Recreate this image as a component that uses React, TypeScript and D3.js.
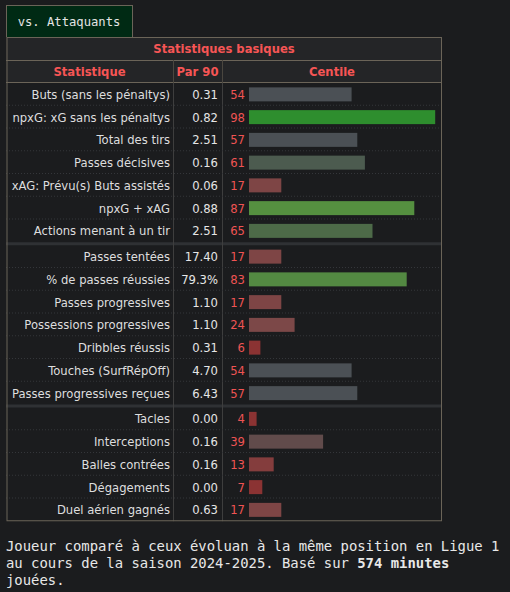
import React from "react";
import * as d3 from "d3";

const groups = [
  [
    { label: "Buts (sans les pénaltys)", per90: "0.31", pct: 54 },
    { label: "npxG: xG sans les pénaltys", per90: "0.82", pct: 98 },
    { label: "Total des tirs", per90: "2.51", pct: 57 },
    { label: "Passes décisives", per90: "0.16", pct: 61 },
    { label: "xAG: Prévu(s) Buts assistés", per90: "0.06", pct: 17 },
    { label: "npxG + xAG", per90: "0.88", pct: 87 },
    { label: "Actions menant à un tir", per90: "2.51", pct: 65 },
  ],
  [
    { label: "Passes tentées", per90: "17.40", pct: 17 },
    { label: "% de passes réussies", per90: "79.3%", pct: 83 },
    { label: "Passes progressives", per90: "1.10", pct: 17 },
    { label: "Possessions progressives", per90: "1.10", pct: 24 },
    { label: "Dribbles réussis", per90: "0.31", pct: 6 },
    { label: "Touches (SurfRépOff)", per90: "4.70", pct: 54 },
    { label: "Passes progressives reçues", per90: "6.43", pct: 57 },
  ],
  [
    { label: "Tacles", per90: "0.00", pct: 4 },
    { label: "Interceptions", per90: "0.16", pct: 39 },
    { label: "Balles contrées", per90: "0.16", pct: 13 },
    { label: "Dégagements", per90: "0.00", pct: 7 },
    { label: "Duel aérien gagnés", per90: "0.63", pct: 17 },
  ],
];

const headers = ["Statistique", "Par 90", "Centile"];
const title = "Statistiques basiques";
const tabLabel = "vs. Attaquants";

const colorStops = [0, 8, 17, 25, 40, 50, 58, 65, 88, 90, 100];
const colorRange = [
  "#8b3333", "#8b3333", "#7e4545", "#7c4848", "#5f4b4b", "#4b5055",
  "#4b5055", "#4d6a48", "#559240", "#2e8e2e", "#2e8e2e",
];

const W = 510;
const H = 592;
const left = 6;
const right = 442;
const col1 = 173;
const col2 = 222;
const top = 37;
const titleH = 23;
const headH = 23;
const rowH = 22.75;
const sep = 3;
const barX = 249;

const font = "'DejaVu Sans', Verdana, sans-serif";
const mono = "'DejaVu Sans Mono', monospace";
const fs = 11.6;

export default function App() {
  const x = d3.scaleLinear().domain([0, 100]).range([0, 190]);
  const color = d3
    .scaleLinear<string>()
    .domain(colorStops)
    .range(colorRange)
    .interpolate(d3.interpolateRgb);

  const bodyTop = top + titleH + headH;
  const rows: any[] = [];
  const seps: number[] = [];
  let y = bodyTop;
  groups.forEach((g, gi) => {
    if (gi > 0) {
      seps.push(y);
      y += sep;
    }
    g.forEach((d, i) => {
      rows.push({ ...d, y, last: i === g.length - 1 });
      y += rowH;
    });
  });
  const bottom = y;

  return (
    <svg
      width={W}
      height={H}
      style={{ position: "absolute", left: 0, top: 0, background: "#1b1c1e" }}
    >
      <rect width={W} height={H} fill="#1b1c1e" />
      {/* tab */}
      <rect x={left + 0.5} y={5.5} width={126} height={32} fill="#002a14" stroke="#6b6458" />
      <text x={69} y={26} textAnchor="middle" fill="#e4e4e4" fontFamily={mono} fontSize={12.2}>
        {tabLabel}
      </text>

      {/* header rows */}
      <rect x={left} y={top} width={right - left} height={titleH + headH} fill="#242527" />
      <text x={(left + right) / 2} y={top + 16} textAnchor="middle" fill="#f65555" fontFamily={font} fontSize={fs} fontWeight="bold">
        {title}
      </text>
      {[
        [(left + col1) / 2, headers[0]],
        [(col1 + col2) / 2, headers[1]],
        [(col2 + right) / 2, headers[2]],
      ].map(([cx, t]) => (
        <text key={t as string} x={cx as number} y={top + titleH + 16} textAnchor="middle" fill="#f65555" fontFamily={font} fontSize={fs} fontWeight="bold">
          {t}
        </text>
      ))}

      {/* group separators */}
      {seps.map((s) => (
        <rect key={s} x={left} y={s} width={right - left} height={sep} fill="#2f3134" />
      ))}

      {/* column dividers */}
      <line x1={col1 + 0.5} x2={col1 + 0.5} y1={top + titleH} y2={bottom} stroke="#3e3e3e" />
      <line x1={col2 + 0.5} x2={col2 + 0.5} y1={top + titleH} y2={bottom} stroke="#3e3e3e" />

      {rows.map((r) => (
        <g key={r.label}>
          {!r.last && (
            <line x1={left} x2={right} y1={r.y + rowH - 0.5} y2={r.y + rowH - 0.5} stroke="#34363a" strokeDasharray="1,2" />
          )}
          <text x={col1 - 3} y={r.y + rowH / 2 + 4.5} textAnchor="end" fill="#dedede" fontFamily={font} fontSize={fs}>
            {r.label}
          </text>
          <text x={col2 - 4} y={r.y + rowH / 2 + 4.5} textAnchor="end" fill="#e6e6e6" fontFamily={font} fontSize={fs}>
            {r.per90}
          </text>
          <text x={barX - 4} y={r.y + rowH / 2 + 4.5} textAnchor="end" fill="#f05454" fontFamily={font} fontSize={fs}>
            {r.pct}
          </text>
          <rect x={barX} y={r.y + rowH / 2 - 7} width={x(r.pct)} height={14} fill={color(r.pct)} />
        </g>
      ))}

      {/* borders */}
      <line x1={left} x2={right} y1={top + titleH + 0.5} y2={top + titleH + 0.5} stroke="#6b6458" />
      <line x1={left} x2={right} y1={bodyTop - 0.5} y2={bodyTop - 0.5} stroke="#6b6458" />
      <line x1={col1 + 0.5} x2={col1 + 0.5} y1={top + titleH} y2={bodyTop} stroke="#4a463f" />
      <line x1={col2 + 0.5} x2={col2 + 0.5} y1={top + titleH} y2={bodyTop} stroke="#4a463f" />
      <rect x={left + 1} y={top + 0.5} width={right - left - 1.5} height={bottom - top - 1} fill="none" stroke="#6b6458" />

      {/* footer */}
      <text fontFamily={mono} fontSize={13.9} fill="#e8e8e8">
        <tspan x={6} y={551}>Joueur comparé à ceux évoluan à la même position en Ligue 1</tspan>
        <tspan x={6} y={568}>au cours de la saison 2024-2025. Basé sur <tspan fontWeight="bold">574 minutes</tspan></tspan>
        <tspan x={6} y={585}>jouées.</tspan>
      </text>
    </svg>
  );
}
